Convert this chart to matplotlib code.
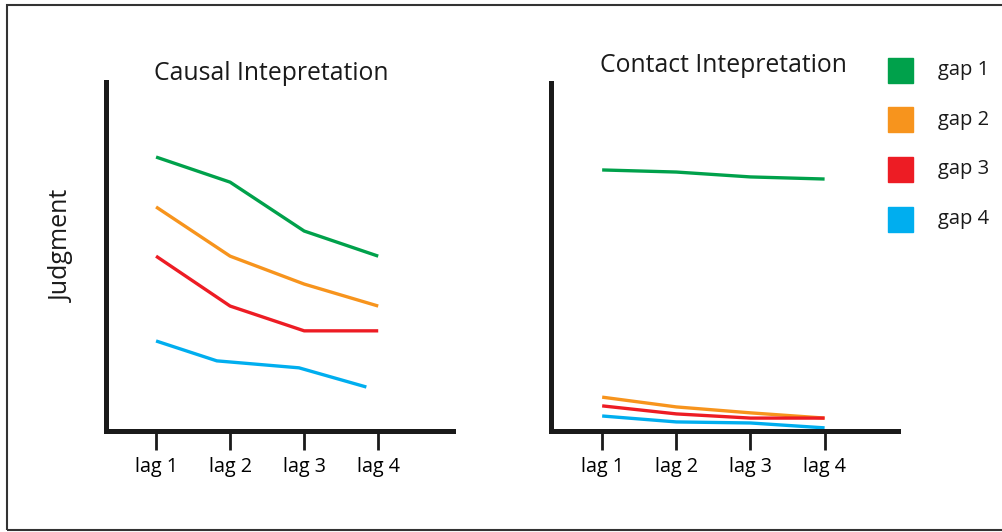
"""Causal vs contact interpretation judgments across lags and gaps."""
import matplotlib.pyplot as plt
from matplotlib.patches import Rectangle

plt.rcParams["font.family"] = ["Open Sans", "DejaVu Sans"]

LAGS = [1, 2, 3, 4]
LAG_LABELS = ["lag 1", "lag 2", "lag 3", "lag 4"]
GAP_LABELS = ["gap 1", "gap 2", "gap 3", "gap 4"]
COLORS = ["#00a14b", "#f7941d", "#ed1c24", "#00aeef"]

# judgment values (0-100 scale)
causal_gap1 = [78.5, 71.3, 57.3, 50.1]
causal_gap2 = [64.2, 50.1, 42.1, 35.8]
causal_gap3 = [50.1, 35.8, 28.7, 28.7]
causal_gap4 = [25.8, 20.1, 18.1, 12.6]
causal_gap4_x = [1, 1.82, 2.93, 3.84]

contact_gap1 = [74.8, 74.2, 72.8, 72.2]
contact_gap2 = [9.7, 6.9, 5.2, 3.7]
contact_gap3 = [7.2, 4.9, 3.7, 3.7]
contact_gap4 = [4.3, 2.6, 2.3, 0.9]

W, H = 1003, 532
fig = plt.figure(figsize=(W / 100, H / 100), dpi=100)
fig.patches.append(Rectangle((7.5 / W, 2 / H), 1.1, (525 / H), transform=fig.transFigure,
                             fill=False, edgecolor="#333333", lw=1.5))


def panel(left, top, xlim, title, title_y, series):
    bottom = 431
    ax = fig.add_axes([left / W, 1 - bottom / H, 347 / W, (bottom - top) / H])
    for xs, ys, c in series:
        ax.plot(xs, ys, color=c, lw=2.4, solid_capstyle="butt")
    ax.set_xlim(*xlim)
    ax.set_ylim(0, 100 * (bottom - top) / 349)
    for s in ("top", "right"):
        ax.spines[s].set_visible(False)
    for s in ("left", "bottom"):
        ax.spines[s].set_linewidth(3.6)
        ax.spines[s].set_color("#1a1a1a")
    ax.set_yticks([])
    ax.set_xticks(LAGS, LAG_LABELS, fontsize=14.2)
    ax.tick_params(axis="x", length=14, width=2, color="#1a1a1a", pad=5)
    fig.text(title[1] / W, 1 - title_y / H, title[0], fontsize=17.8,
             ha="center", va="center", color="#1a1a1a")
    return ax


ax1 = panel(106, 82, (0.324, 5.01), ("Causal Intepretation", 271), 74, [
    (LAGS, causal_gap1, COLORS[0]),
    (LAGS, causal_gap2, COLORS[1]),
    (LAGS, causal_gap3, COLORS[2]),
    (causal_gap4_x, causal_gap4, COLORS[3]),
])
ax2 = panel(551, 83, (0.31, 4.99), ("Contact Intepretation", 723), 66, [
    (LAGS, contact_gap1, COLORS[0]),
    (LAGS, contact_gap2, COLORS[1]),
    (LAGS, contact_gap3, COLORS[2]),
    (LAGS, contact_gap4, COLORS[3]),
])

fig.text(62 / W, 1 - 246 / H, "Judgment", rotation=90, fontsize=18,
         ha="center", va="center", color="#1a1a1a")

# legend: coloured squares with labels
for i, (lab, c) in enumerate(zip(GAP_LABELS, COLORS)):
    yc = 70 + i * 49.7
    fig.patches.append(Rectangle((888 / W, 1 - (yc + 12.5) / H), 25 / W, 25 / H,
                                 transform=fig.transFigure, color=c))
    fig.text(938 / W, 1 - yc / H, lab, fontsize=14.5, ha="left", va="center",
             color="#1a1a1a")

fig.savefig("out.png", dpi=100)
